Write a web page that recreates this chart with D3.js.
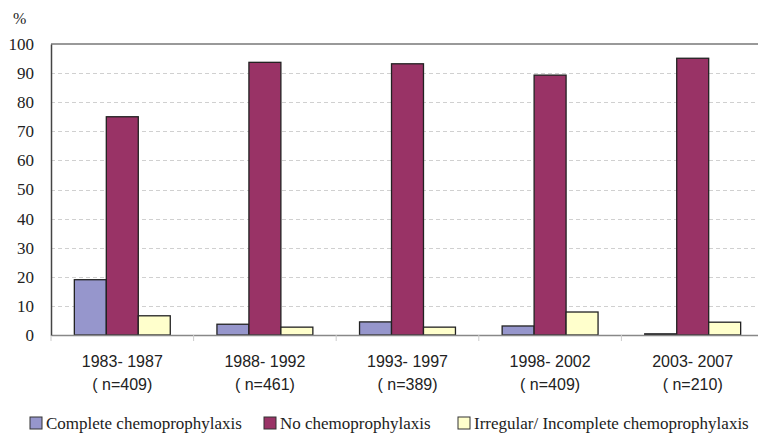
<!DOCTYPE html>
<html>
<head>
<meta charset="utf-8">
<script src="https://cdn.jsdelivr.net/npm/d3@7"></script>
<style>
  html, body { margin: 0; padding: 0; background: #fff; }
  svg { display: block; }
</style>
</head>
<body>
<div id="chart"></div>
<script>
const periods = ["1983- 1987", "1988- 1992", "1993- 1997", "1998- 2002", "2003- 2007"];
const sampleSizes = ["( n=409)", "( n=461)", "( n=389)", "( n=409)", "( n=210)"];
const seriesNames = ["Complete chemoprophylaxis", "No chemoprophylaxis", "Irregular/ Incomplete chemoprophylaxis"];
const complete = [19, 3.7, 4.5, 3.1, 0.4];
const noChemo = [75, 93.7, 93.2, 89.3, 95.1];
const irregular = [6.6, 2.7, 2.7, 7.9, 4.4];
const yTicks = [0, 10, 20, 30, 40, 50, 60, 70, 80, 90, 100];
const colors = ["#9696cc", "#993366", "#ffffcc"];

const SERIF = "'Liberation Serif', 'Times New Roman', serif";
const SANS = "'Liberation Sans', Arial, sans-serif";

const series = [complete, noChemo, irregular];
const W = 758, H = 437;
const m = { left: 51, top: 44, right: -6, bottom: 102 };
const x0 = m.left, x1 = W - m.right;
const yTop = m.top, yBot = H - m.bottom;

const svg = d3.select("#chart").append("svg").attr("width", W).attr("height", H);

const x = d3.scaleBand().domain(d3.range(periods.length)).range([x0, x1]).paddingInner(0).paddingOuter(0);
const xs = d3.scaleBand().domain(d3.range(series.length)).range([0, x.bandwidth()]).paddingInner(0).paddingOuter(0.73);
const y = d3.scaleLinear().domain([0, 100]).range([yBot, yTop]);

// gridlines
svg.append("g").selectAll("line").data(yTicks.filter(t => t > 0 && t < 100)).join("line")
  .attr("x1", x0).attr("x2", x1)
  .attr("y1", d => Math.round(y(d)) + 0.5).attr("y2", d => Math.round(y(d)) + 0.5)
  .attr("stroke", "#d0d0d0").attr("stroke-width", 1).attr("stroke-dasharray", "4,3");

// top frame line
svg.append("line").attr("x1", x0).attr("x2", x1).attr("y1", y(100)).attr("y2", y(100))
  .attr("stroke", "#777").attr("stroke-width", 1.5);

// bars
const groups = svg.append("g").selectAll("g").data(periods).join("g")
  .attr("transform", (d, i) => `translate(${x(i)},0)`);
groups.selectAll("rect").data((d, i) => series.map((s, k) => ({ k, v: s[i] }))).join("rect")
  .attr("x", d => xs(d.k))
  .attr("width", xs.bandwidth())
  .attr("y", d => y(d.v))
  .attr("height", d => y(0) - y(d.v))
  .attr("fill", d => colors[d.k])
  .attr("stroke", "#222").attr("stroke-width", 1.3);

// x axis
const xAxis = d3.axisBottom(x).tickSize(0).tickFormat("");
const gx = svg.append("g").attr("transform", `translate(0,${yBot})`).call(xAxis);
gx.select(".domain").attr("stroke", "#888").attr("stroke-width", 1.5);
// boundary tick marks
svg.append("g").selectAll("line").data(d3.range(periods.length + 1)).join("line")
  .attr("x1", d => x0 + d * x.step()).attr("x2", d => x0 + d * x.step())
  .attr("y1", yBot).attr("y2", yBot + 6)
  .attr("stroke", "#ccc").attr("stroke-width", 1);

// x labels
const xl = svg.append("g").selectAll("text").data(periods).join("text")
  .style("font-family", SANS)
  .attr("x", (d, i) => x(i) + x.bandwidth() / 2)
  .attr("text-anchor", "middle")
  .attr("font-size", 16).attr("fill", "#222");
xl.append("tspan").attr("x", (d, i) => x(i) + x.bandwidth() / 2).attr("y", 367).text(d => d);
xl.append("tspan").attr("x", (d, i) => x(i) + x.bandwidth() / 2).attr("y", 390).text((d, i) => sampleSizes[i]);

// y axis
const yAxis = d3.axisLeft(y).tickValues(yTicks).tickSize(0).tickPadding(17);
const gy = svg.append("g").attr("transform", `translate(${x0},0)`).call(yAxis);
gy.attr("font-family", null);
gy.select(".domain").attr("stroke", "#444").attr("stroke-width", 1.5);
gy.selectAll("text").style("font-family", SERIF)
  .attr("font-size", 17).attr("fill", "#222");

// % label
svg.append("text").style("font-family", SERIF).attr("x", 13).attr("y", 24).text("%")
  .attr("font-size", 16).attr("fill", "#222");

// legend
const legendX = [30, 264, 458];
const lg = svg.append("g").selectAll("g").data(seriesNames).join("g")
  .attr("transform", (d, i) => `translate(${legendX[i]},0)`);
lg.append("rect").attr("x", 0).attr("y", 417).attr("width", 12).attr("height", 12)
  .attr("fill", (d, i) => colors[i]).attr("stroke", "#333").attr("stroke-width", 1);
lg.append("text").style("font-family", SERIF).attr("x", 16).attr("y", 429).text(d => d)
  .attr("font-size", 17).attr("fill", "#222");
</script>
</body>
</html>
